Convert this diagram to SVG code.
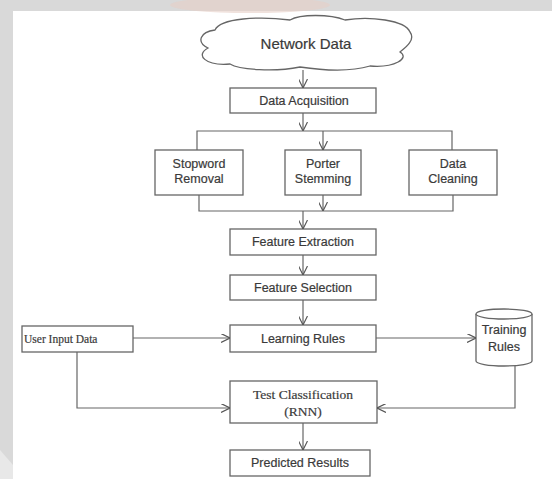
<svg xmlns="http://www.w3.org/2000/svg" width="552" height="479" viewBox="0 0 552 479">
<defs>
<marker id="arr" viewBox="0 0 10 10" refX="10" refY="5" markerWidth="9" markerHeight="9" orient="auto" markerUnits="userSpaceOnUse">
<path d="M0,0 L10,5 L0,10" fill="none" stroke="#555" stroke-width="1.3"/>
</marker>
<style>
.bx{fill:#fff;stroke:#666;stroke-width:1.3}
.ln{fill:none;stroke:#666;stroke-width:1.2}
.t{font-family:"Liberation Sans",Arial,sans-serif;font-size:12.5px;fill:#3a3a3a;text-anchor:middle;stroke:#3a3a3a;stroke-width:0.2}
.s{font-family:"Liberation Serif","Times New Roman",serif;font-size:13.5px;fill:#3a3a3a;text-anchor:middle;stroke:#3a3a3a;stroke-width:0.2}
.big{font-size:15px}
.sm{font-size:11.5px;text-anchor:start}
</style>
</defs>
<rect width="552" height="479" fill="#fff"/>
<rect x="0" y="0" width="552" height="11" fill="#d9d9d9"/>
<rect x="0" y="0" width="13" height="479" fill="#d9d9d9"/>
<ellipse cx="250" cy="5" rx="80" ry="8" fill="#e6cfc6" opacity="0.6"/>
<polygon points="0,450 13,465 13,479 0,479" fill="#e8e8e8"/>

<g id="network-data">
<path class="bx" d="M215,30 C220,18 260,16 290,20 C300,14 330,14 345,20 C370,16 405,20 410,32 C416,40 405,48 400,52 C410,58 395,68 370,66 C350,72 320,70 300,67 C275,72 240,70 230,64 C205,66 195,55 208,48 C196,42 200,32 215,30 Z"/>
<text class="t big" x="306" y="49">Network Data</text>
</g>
<g id="data-acquisition">
<rect class="bx" x="230" y="88" width="146" height="25"/>
<text class="t" x="304" y="105">Data Acquisition</text>
</g>
<g id="stopword-removal">
<rect class="bx" x="155" y="150" width="88" height="45"/>
<text class="t" x="199" y="168">Stopword</text>
<text class="t" x="199" y="183">Removal</text>
</g>
<g id="porter-stemming">
<rect class="bx" x="285" y="150" width="76" height="45"/>
<text class="t" x="323" y="168">Porter</text>
<text class="t" x="323" y="183">Stemming</text>
</g>
<g id="data-cleaning">
<rect class="bx" x="409" y="150" width="88" height="45"/>
<text class="t" x="453" y="168">Data</text>
<text class="t" x="453" y="183">Cleaning</text>
</g>
<g id="feature-extraction">
<rect class="bx" x="230" y="229" width="146" height="26"/>
<text class="t" x="303" y="246">Feature Extraction</text>
</g>
<g id="feature-selection">
<rect class="bx" x="230" y="275" width="146" height="25"/>
<text class="t" x="303" y="292">Feature Selection</text>
</g>
<g id="learning-rules">
<rect class="bx" x="230" y="325" width="146" height="27"/>
<text class="t" x="303" y="343">Learning Rules</text>
</g>
<g id="user-input-data">
<rect class="bx" x="22" y="326" width="111" height="26"/>
<text class="s sm" x="24" y="343">User Input Data</text>
</g>
<g id="training-rules">
<path class="bx" d="M476,314 L476,361 A28,5 0 0 0 532,361 L532,314"/>
<ellipse class="bx" cx="504" cy="314" rx="28" ry="5"/>
<text class="t" x="504" y="334">Training</text>
<text class="t" x="504" y="351">Rules</text>
</g>
<g id="test-classification">
<rect class="bx" x="230" y="381" width="147" height="42"/>
<text class="s" x="303" y="399">Test Classification</text>
<text class="s" x="303" y="416">(RNN)</text>
</g>
<g id="predicted-results">
<rect class="bx" x="230" y="450" width="140" height="26"/>
<text class="t" x="300" y="467">Predicted Results</text>
</g>

<g id="connectors">
<line class="ln" x1="303" y1="70" x2="303" y2="88" marker-end="url(#arr)"/>
<line class="ln" x1="303" y1="113" x2="303" y2="131" marker-end="url(#arr)"/>
<polyline class="ln" points="197,150 197,131 452,131 452,150"/>
<line class="ln" x1="323" y1="131" x2="323" y2="150" marker-end="url(#arr)"/>
<polyline class="ln" points="199,195 199,211 453,211 453,195"/>
<line class="ln" x1="323" y1="195" x2="323" y2="211" marker-end="url(#arr)"/>
<line class="ln" x1="303" y1="211" x2="303" y2="229" marker-end="url(#arr)"/>
<line class="ln" x1="303" y1="255" x2="303" y2="275" marker-end="url(#arr)"/>
<line class="ln" x1="303" y1="300" x2="303" y2="325" marker-end="url(#arr)"/>
<line class="ln" x1="133" y1="338" x2="230" y2="338" marker-end="url(#arr)"/>
<line class="ln" x1="376" y1="338" x2="476" y2="338" marker-end="url(#arr)"/>
<polyline class="ln" points="77,352 77,408 230,408" marker-end="url(#arr)"/>
<polyline class="ln" points="515,366 515,408 377,408" marker-end="url(#arr)"/>
<line class="ln" x1="303" y1="423" x2="303" y2="450" marker-end="url(#arr)"/>
</g>
</svg>
